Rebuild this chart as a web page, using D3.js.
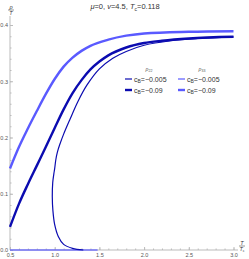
<!DOCTYPE html>
<meta charset="utf-8">
<script src="https://d3js.org/d3.v7.min.js"></script>
<style>
body { margin: 0; background: #fff; font-family: 'Liberation Sans', Arial, sans-serif; }
svg { display: block; }
.tick text { fill: #555; font-size: 5.5px; }
</style>
<svg width="249" height="259"></svg>
<script>
// values
var rho22_thick = [[0.5,0.041],[0.6,0.082],[0.7,0.117],[0.8,0.150],[0.9,0.183],[1.0,0.217],[1.1,0.250],
  [1.2,0.279],[1.3,0.302],[1.4,0.321],[1.5,0.335],[1.6,0.346],[1.8,0.360],[2.0,0.368],[2.2,0.372],
  [2.5,0.376],[3.0,0.379]];
var rho22_thin = [[1.32,0.000],[1.2,0.003],[1.1,0.010],[1.04,0.024],[1.0,0.045],[0.98,0.07],
  [0.973,0.095],[0.978,0.12],[0.99,0.135],[1.0,0.145],[1.012,0.160],[1.03,0.174],[1.06,0.189],
  [1.1,0.206],[1.17,0.232],[1.26,0.264],[1.36,0.293],[1.5,0.322],[1.65,0.341],[1.8,0.353],
  [2.0,0.364],[2.3,0.372],[2.6,0.376],[3.0,0.379]];
var rho33_thick = [[0.5,0.145],[0.6,0.183],[0.7,0.216],[0.8,0.247],[0.9,0.277],[1.0,0.304],[1.1,0.326],
  [1.2,0.342],[1.3,0.354],[1.4,0.363],[1.6,0.374],[1.8,0.381],[2.0,0.385],[2.5,0.388],[3.0,0.389]];
var rho33_thin = [[0.5,0],[1.0,0],[1.48,0]];
var xTicks = [0.5, 1.0, 1.5, 2.0, 2.5, 3.0];
var yTicks = [0.0, 0.1, 0.2, 0.3, 0.4];

var dark = "#0b0bb0", light = "#5a5aff";

var svg = d3.select("svg");
var x = d3.scaleLinear().domain([0.5, 3.0]).range([10, 233.5]);
var y = d3.scaleLinear().domain([0, 0.4]).range([250, 25]);

// axes
var xAxis = svg.append("g").attr("transform", "translate(0,250)")
  .call(d3.axisBottom(x).tickValues(xTicks).tickFormat(d3.format(".1f")).tickSize(-3).tickPadding(3));
xAxis.select(".domain").attr("d", "M10,0H238");
svg.append("g").attr("transform", "translate(0,250)")
  .call(d3.axisBottom(x).tickValues(d3.range(0.5, 3.001, 0.1)).tickFormat("").tickSize(-1.5))
  .select(".domain").remove();

var yAxis = svg.append("g").attr("transform", "translate(10,0)")
  .call(d3.axisLeft(y).tickValues(yTicks).tickFormat(d3.format(".1f")).tickSize(-3).tickPadding(2));
yAxis.select(".domain").attr("d", "M0,250V16");
svg.append("g").attr("transform", "translate(10,0)")
  .call(d3.axisLeft(y).tickValues(d3.range(0, 0.4001, 0.02)).tickFormat("").tickSize(-1.5))
  .select(".domain").remove();
svg.selectAll(".domain, .tick line").attr("stroke", "#bbb");

// curves
var fline = d3.line().x(function(d) { return x(d[0]); }).y(function(d) { return y(d[1]); })
  .curve(d3.curveMonotoneX);
var pline = d3.line().x(function(d) { return x(d[0]); }).y(function(d) { return y(d[1]); })
  .curve(d3.curveCatmullRom.alpha(0.5));

svg.append("path").attr("d", fline(rho33_thin)).attr("fill", "none")
  .attr("stroke", light).attr("stroke-width", 1.6).attr("opacity", 0.8);
svg.append("path").attr("d", fline(rho33_thick)).attr("fill", "none")
  .attr("stroke", light).attr("stroke-width", 2.4);
svg.append("path").attr("d", pline(rho22_thin)).attr("fill", "none")
  .attr("stroke", dark).attr("stroke-width", 1.2);
svg.append("path").attr("d", fline(rho22_thick)).attr("fill", "none")
  .attr("stroke", dark).attr("stroke-width", 2.4);

// title
svg.append("text").attr("x", 125).attr("y", 9).attr("text-anchor", "middle")
  .attr("font-size", 7.5).attr("fill", "#333")
  .html("<tspan font-style='italic'>μ</tspan>=0, <tspan font-style='italic'>v</tspan>=4.5, <tspan font-style='italic'>T</tspan><tspan font-size='5' dy='1.5'>c</tspan><tspan dy='-1.5'>=0.118</tspan>");

// axis labels (fractions)
function frac(cx, cy, top, bottom) {
  var g = svg.append("g").attr("font-size", 5.5).attr("fill", "#333").attr("text-anchor", "middle");
  g.append("text").attr("x", cx).attr("y", cy - 1).html(top);
  g.append("line").attr("x1", cx - 3).attr("x2", cx + 3).attr("y1", cy).attr("y2", cy)
    .attr("stroke", "#333").attr("stroke-width", 0.5);
  g.append("text").attr("x", cx).attr("y", cy + 5).html(bottom);
}
frac(11, 10, "<tspan font-style='italic'>ρ</tspan>", "<tspan font-style='italic'>T</tspan>");
frac(242, 246, "<tspan font-style='italic'>T</tspan>", "<tspan font-style='italic'>T</tspan><tspan font-size='3.5' dy='1'>c</tspan>");

// legend
var cols = [{name: "22", color: dark, x: 125}, {name: "33", color: light, x: 178}];
var rows = [{label: "−0.005", w: 1.2}, {label: "−0.09", w: 2.4}];
cols.forEach(function(c) {
  svg.append("text").attr("x", c.x + 24).attr("y", 71).attr("text-anchor", "middle")
    .attr("font-size", 5).attr("fill", "#555")
    .html("<tspan font-style='italic'>ρ</tspan><tspan font-size='3.5' dy='1'>" + c.name + "</tspan>");
  rows.forEach(function(r, i) {
    var yy = 79 + i * 11;
    svg.append("line").attr("x1", c.x).attr("x2", c.x + 7).attr("y1", yy).attr("y2", yy)
      .attr("stroke", c.color).attr("stroke-width", r.w);
    svg.append("text").attr("x", c.x + 9).attr("y", yy + 2.5).attr("font-size", 7).attr("fill", "#333")
      .html("c<tspan font-size='5' dy='1.5'>B</tspan><tspan dy='-1.5'>=" + r.label + "</tspan>");
  });
});
</script>
